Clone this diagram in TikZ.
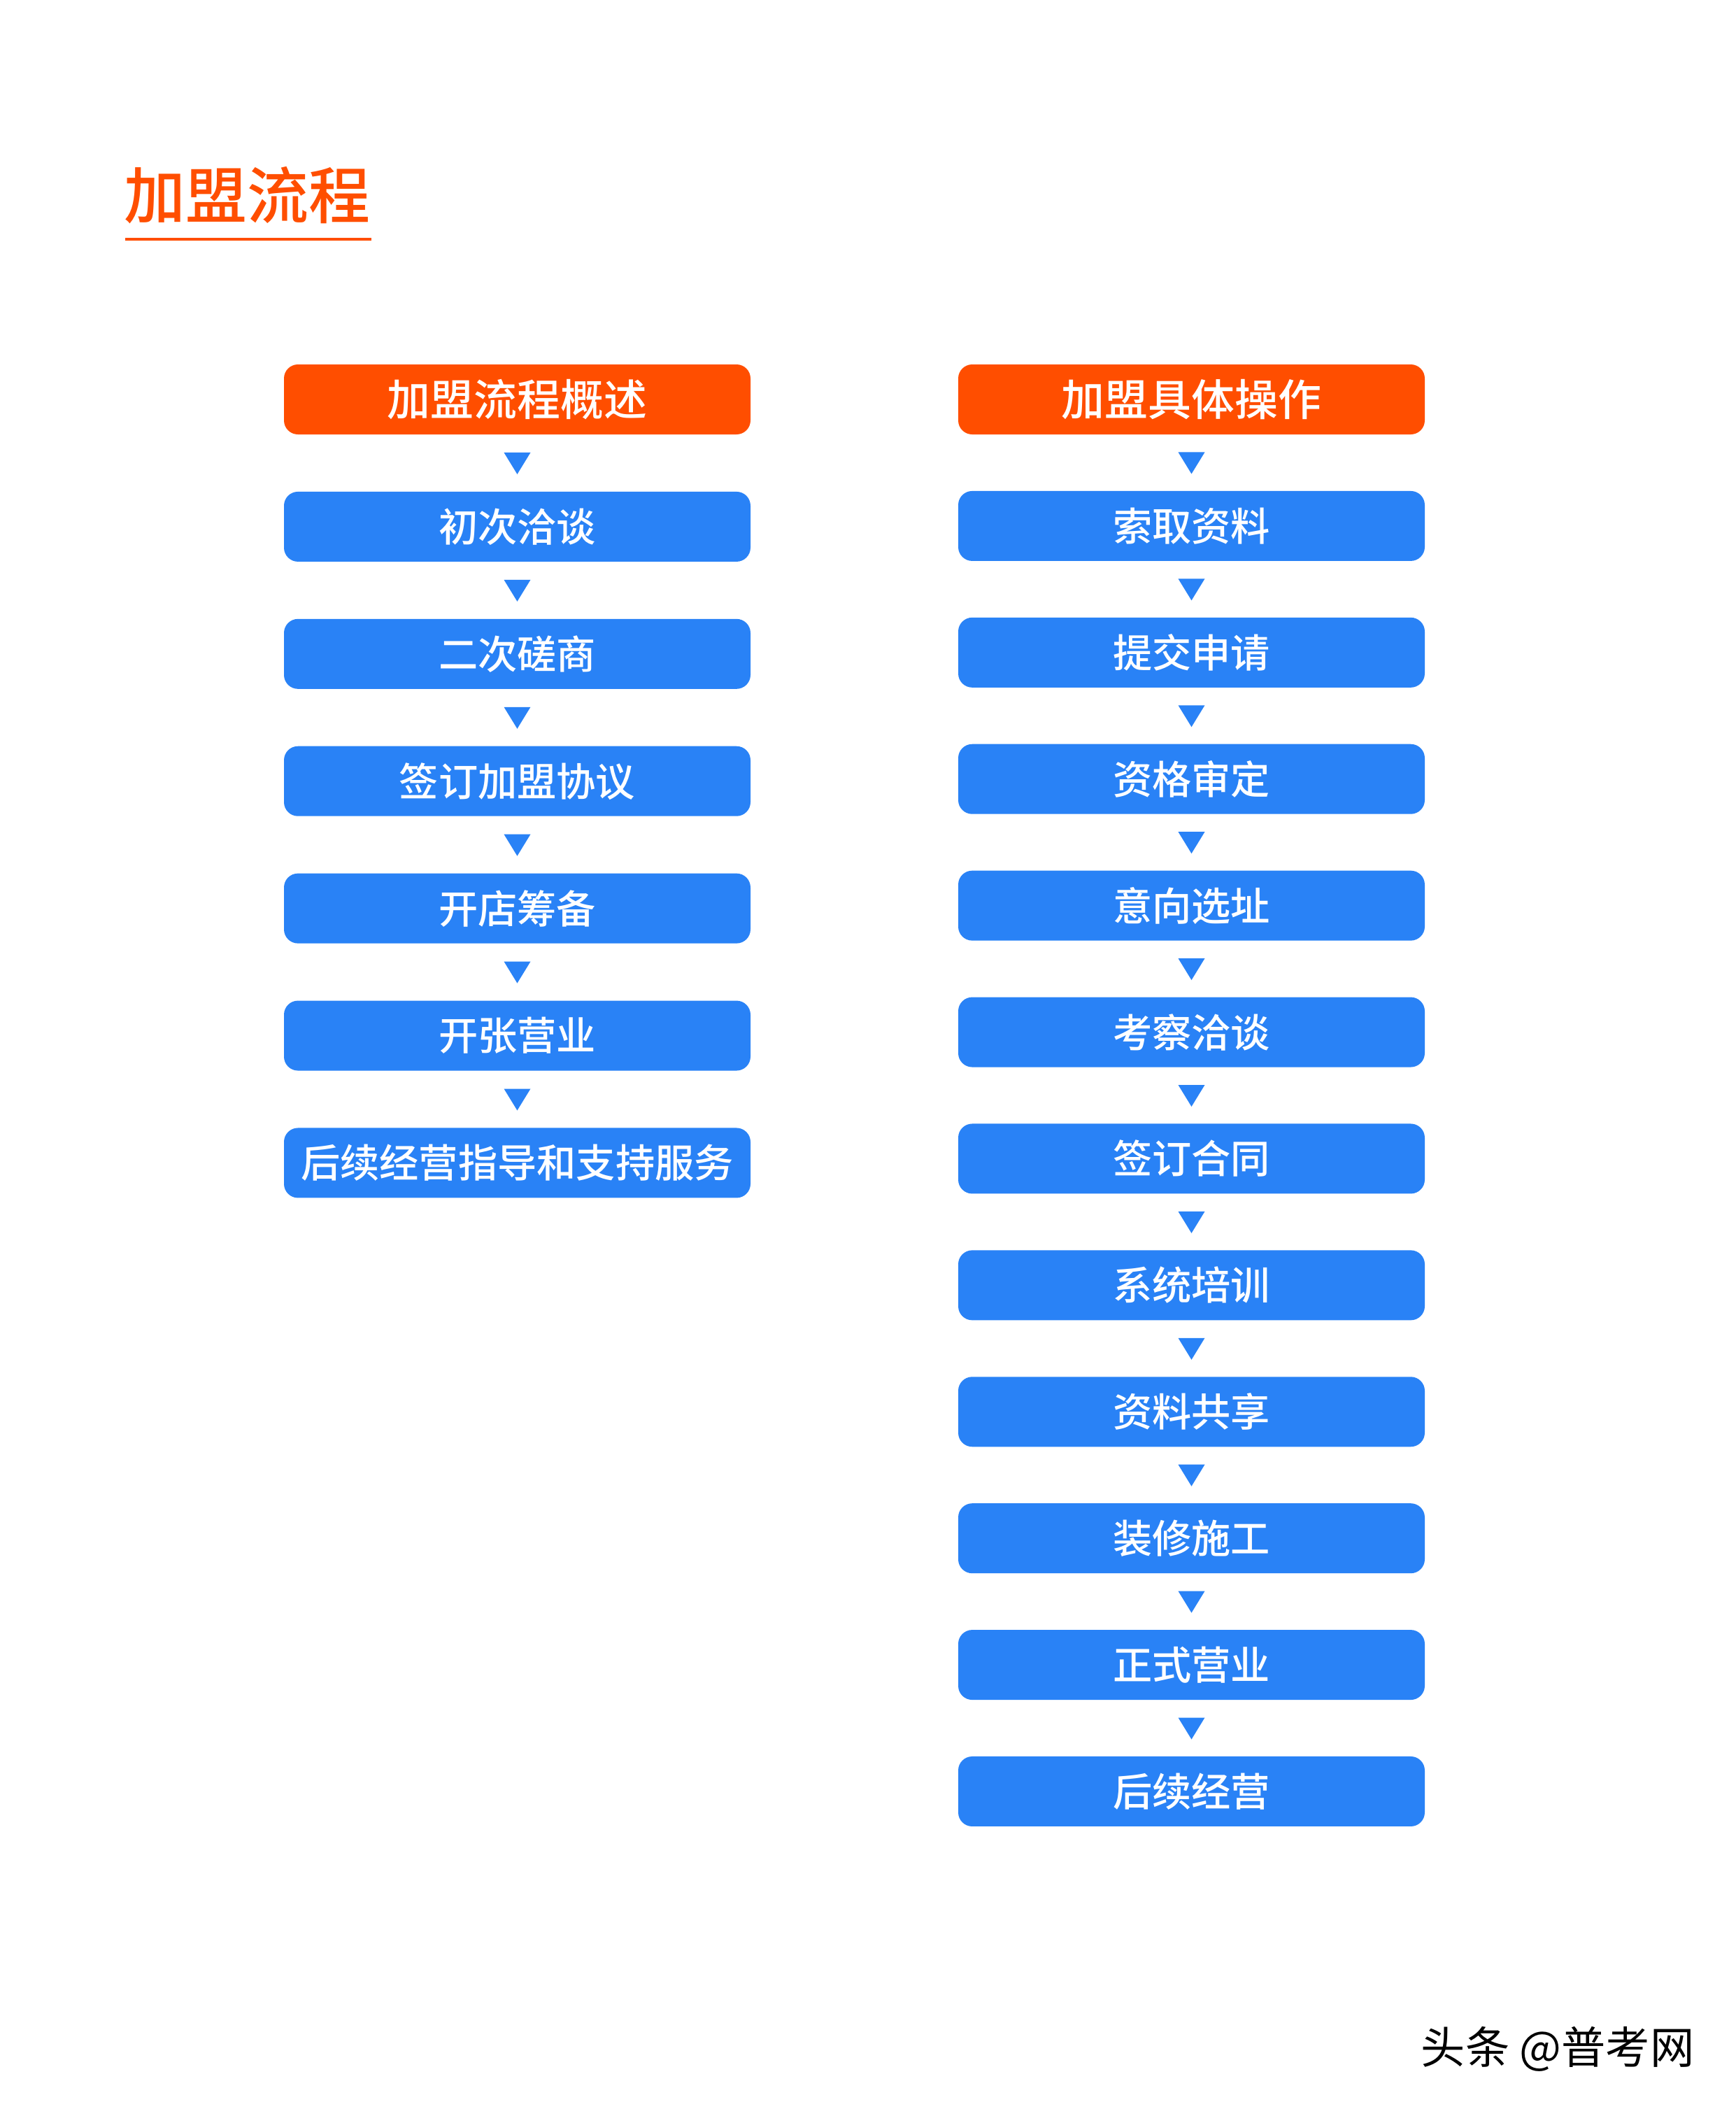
\documentclass[tikz,border=0pt]{standalone}
\usepackage{fontspec}
\usepackage{tikz}
\usetikzlibrary{positioning,calc}
\newfontfamily\cjk{Noto Sans CJK SC Medium}
\definecolor{joinorange}{RGB}{255,78,0}
\definecolor{joinblue}{RGB}{41,130,246}

\begin{document}
\begin{tikzpicture}[stepbox/.style={rectangle,rounded corners=0.2cm,fill=joinblue,text=white,minimum width=6.67cm,minimum height=1.0cm,inner sep=0pt,font=\cjk\fontsize{16}{19}\selectfont},
	headbox/.style={stepbox,fill=joinorange,font=\cjk\fontsize{17.6}{20}\selectfont},
	downtri/.style={fill=joinblue}]
				\useasboundingbox (0,0) rectangle (24.81,-30.15);
				
				% title
				\node [anchor=west,inner sep=0pt,text=joinorange,font=\cjk\fontsize{25}{30}\selectfont] (title) at (1.77,-2.79) {加盟流程};
				\draw [joinorange,line width=0.04cm] (1.79,-3.42) -- (5.31,-3.42);
				
				% left column
				\node [headbox] (l0) at (7.395,-5.71) {加盟流程概述};
				\foreach \t [count=\i] in {初次洽谈,二次磋商,签订加盟协议,开店筹备,开张营业,后续经营指导和支持服务}
				{\pgfmathtruncatemacro{\j}{\i - 1}
					\node [stepbox, below=0.805cm of l\j] (l\i) {\t};
					\fill [downtri] ($(l\j.south)!0.5!(l\i.north)$) ++(-0.19,0.15) -- ++(0.38,0) -- ++(-0.19,-0.31) -- cycle;}
				
				% right column
				\node [headbox] (r0) at (17.035,-5.71) {加盟具体操作};
				\foreach \t [count=\i] in {索取资料,提交申请,资格审定,意向选址,考察洽谈,签订合同,系统培训,资料共享,装修施工,正式营业,后续经营}
				{\pgfmathtruncatemacro{\j}{\i - 1}
					\node [stepbox, below=0.795cm of r\j] (r\i) {\t};
					\fill [downtri] ($(r\j.south)!0.5!(r\i.north)$) ++(-0.19,0.15) -- ++(0.38,0) -- ++(-0.19,-0.31) -- cycle;}
				
				\node [anchor=east,inner sep=0pt,font=\fontspec{Noto Sans CJK SC}\fontsize{18}{21}\selectfont] (mark) at (24.23,-29.29) {头条 @普考网};
			\end{tikzpicture}
\end{document}
